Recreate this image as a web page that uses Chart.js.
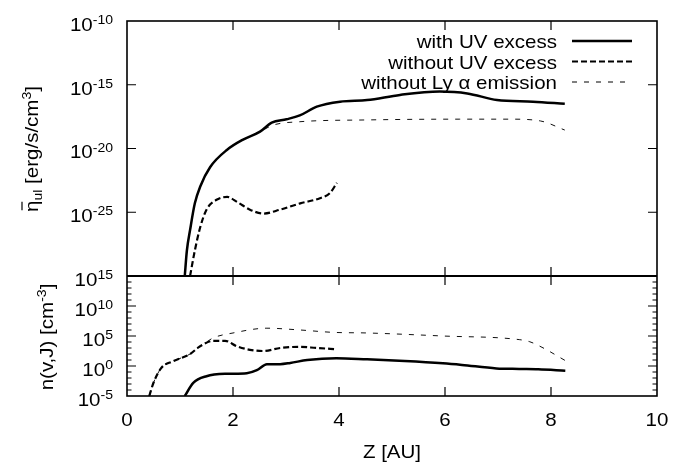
<!DOCTYPE html>
<html>
<head>
<meta charset="utf-8">
<script src="https://cdn.jsdelivr.net/npm/chart.js@4"></script>
<style>
  body { margin: 0; background: #fff; }
  canvas { display: block; }
</style>
</head>
<body>
<canvas id="eta-chart" width="697" height="463"></canvas>
<script>
// upper panel: mean emissivity eta_ul [erg/s/cm^3]
const zEtaUV = [1.09, 1.13, 1.19, 1.28, 1.38, 1.57, 1.89, 2.19, 2.51, 2.73, 3.01, 3.26, 3.58, 4.02, 4.53, 5.15, 5.9, 6.42, 6.98, 7.66, 8.26];
const etaUV = [1e-30, 1e-28, 4.0e-27, 5.0e-25, 1e-23, 3.5e-22, 8e-21, 5e-20, 2.1e-19, 1.07e-18, 1.95e-18, 3.9e-18, 1.9e-17, 4.7e-17, 6.3e-17, 1.6e-16, 2.9e-16, 2.1e-16, 6.3e-17, 4.7e-17, 3.2e-17];

const zEtaNoUV = [1.19, 1.28, 1.38, 1.5, 1.7, 1.89, 2.08, 2.32, 2.57, 2.89, 3.27, 3.64, 3.83, 3.96];
const etaNoUV = [1e-30, 1e-28, 6.3e-27, 1.6e-25, 1e-24, 1.6e-24, 6.3e-25, 1.6e-25, 7.9e-26, 1.6e-25, 5e-25, 1.26e-24, 3.2e-24, 2e-23];

const zEtaNoLya = [1.09, 1.13, 1.19, 1.28, 1.38, 1.57, 1.89, 2.19, 2.51, 2.76, 3.26, 4.53, 6.28, 7.23, 7.8, 8.26];
const etaNoLya = [1e-30, 1e-28, 4.0e-27, 5.0e-25, 1e-23, 3.5e-22, 8e-21, 5e-20, 2.1e-19, 6.9e-19, 1.26e-18, 1.74e-18, 2.0e-18, 2.0e-18, 1.45e-18, 2.8e-19];

// lower panel: level population n(v,J) [cm^-3]
const zPopUV = [1.09, 1.25, 1.5, 1.88, 2.26, 2.45, 2.64, 2.89, 3.08, 3.4, 3.95, 4.53, 5.24, 5.96, 6.32, 6.97, 7.4, 7.76, 8.27];
const popUV = [1e-5, 1.6e-3, 2e-2, 5e-2, 6.3e-2, 0.2, 2.0, 2.0, 3.2, 10, 20, 13, 6.8, 2.8, 1.5, 0.4, 0.32, 0.28, 0.16];

const zPopNoUV = [0.42, 0.5, 0.65, 0.87, 1.19, 1.38, 1.63, 1.85, 2.07, 2.32, 2.57, 2.89, 3.27, 3.58, 3.96];
const popNoUV = [1e-5, 1.6e-3, 0.5, 6.3, 100, 2000, 1.6e4, 1.6e4, 2000, 500, 316, 1000, 1600, 1000, 630];

const zPopNoLya = [0.42, 0.5, 0.65, 0.87, 1.19, 1.38, 1.5, 1.63, 2.0, 2.64, 3.27, 3.9, 4.53, 5.96, 7.4, 7.6, 7.83, 8.27];
const popNoLya = [1e-5, 1.6e-3, 0.5, 6.3, 100, 2000, 1e4, 5e4, 3.2e5, 2e6, 1e6, 4e5, 3.2e5, 1e5, 2.5e4, 1.1e4, 1.3e3, 8];

const seriesLabels = ['with UV excess', 'without UV excess', 'without Ly \u03b1 emission'];
const xTicks = [0, 2, 4, 6, 8, 10];
const etaExponents = [-10, -15, -20, -25];
const popExponents = [15, 10, 5, 0, -5];

const FONT = "'Liberation Sans', Arial, sans-serif";
const STRETCH = 1.08;   // helvetica in the original is a touch wider

const lineStyles = [
  { borderWidth: 2.5, borderDash: [] },
  { borderWidth: 2.2, borderDash: [6, 3] },
  { borderWidth: 1, borderDash: [5, 7] }
];

const toPoints = (xs, ys) => xs.map((x, i) => ({ x: x, y: ys[i] }));

const makeSet = (idx, axis, xs, ys) => ({
  label: seriesLabels[idx],
  data: toPoints(xs, ys),
  yAxisID: axis,
  borderColor: idx === 2 ? '#111' : '#000',
  borderWidth: lineStyles[idx].borderWidth,
  borderDash: lineStyles[idx].borderDash,
  pointRadius: 0,
  fill: false,
  cubicInterpolationMode: 'monotone'
});

function textWidth(ctx, text, size) {
  ctx.font = size + 'px ' + FONT;
  return ctx.measureText(text).width * STRETCH;
}

function drawText(ctx, text, size, x, y, align) {
  ctx.save();
  ctx.font = size + 'px ' + FONT;
  ctx.translate(x, y);
  ctx.scale(STRETCH, 1);
  ctx.textAlign = align;
  ctx.textBaseline = 'alphabetic';
  ctx.fillText(text, 0, 0);
  ctx.restore();
}

// "10" with a raised exponent, right aligned at xr
function powLabel(ctx, exp, xr, y) {
  const e = String(exp);
  const ew = textWidth(ctx, e, 13);
  const bw = textWidth(ctx, '10', 19);
  drawText(ctx, '10', 19, xr - ew - bw, y + 9.8, 'left');
  drawText(ctx, e, 13, xr - ew, y + 3, 'left');
}

// vertical title made of runs [text, size, shift]
function verticalTitle(ctx, runs, cx, cy, overbar) {
  ctx.save();
  ctx.translate(cx, cy);
  ctx.rotate(-Math.PI / 2);
  ctx.scale(STRETCH, 1);
  ctx.textAlign = 'left';
  ctx.textBaseline = 'alphabetic';
  let total = 0;
  runs.forEach(r => { ctx.font = r[1] + 'px ' + FONT; total += ctx.measureText(r[0]).width; });
  let x = -total / 2;
  runs.forEach((r, i) => {
    ctx.font = r[1] + 'px ' + FONT;
    const w = ctx.measureText(r[0]).width;
    ctx.fillText(r[0], x, 7 + r[2]);
    if (overbar && i === 0) {
      ctx.lineWidth = 1.2;
      ctx.beginPath();
      ctx.moveTo(x + 1.5, 7 - 16);
      ctx.lineTo(x + w - 1, 7 - 16);
      ctx.stroke();
    }
    x += w;
  });
  ctx.restore();
}

const framePlugin = {
  id: 'frame',
  afterDraw(chart) {
    const ctx = chart.ctx;
    const sx = chart.scales.x, eta = chart.scales.eta, pop = chart.scales.pop;
    const left = sx.getPixelForValue(0), right = sx.getPixelForValue(10);
    const top = eta.getPixelForValue(1e-10);
    const mid = eta.getPixelForValue(1e-30);
    const bottom = pop.getPixelForValue(1e-5);

    ctx.save();
    ctx.strokeStyle = '#000';
    ctx.fillStyle = '#000';
    ctx.setLineDash([]);

    ctx.lineWidth = 1.6;
    ctx.strokeRect(left, top, right - left, bottom - top);
    ctx.lineWidth = 2.2;
    ctx.beginPath();
    ctx.moveTo(left, mid);
    ctx.lineTo(right, mid);
    ctx.stroke();

    const major = 9, minor = 4.5;
    ctx.lineWidth = 1.2;
    ctx.beginPath();
    // x ticks on every horizontal edge, pointing inward
    xTicks.slice(1, -1).forEach(v => {
      const px = sx.getPixelForValue(v);
      ctx.moveTo(px, top); ctx.lineTo(px, top + major);
      ctx.moveTo(px, mid); ctx.lineTo(px, mid - major);
      ctx.moveTo(px, mid); ctx.lineTo(px, mid + major);
      ctx.moveTo(px, bottom); ctx.lineTo(px, bottom - major);
    });
    // upper panel: major ticks only
    etaExponents.slice(1).forEach(e => {
      const py = eta.getPixelForValue(Math.pow(10, e));
      ctx.moveTo(left, py); ctx.lineTo(left + major, py);
      ctx.moveTo(right, py); ctx.lineTo(right - major, py);
    });
    // lower panel: decade minor ticks
    for (let e = -4; e < 15; e++) {
      const py = pop.getPixelForValue(Math.pow(10, e));
      const len = e % 5 === 0 ? major : minor;
      ctx.moveTo(left, py); ctx.lineTo(left + len, py);
      ctx.moveTo(right, py); ctx.lineTo(right - len, py);
    }
    ctx.stroke();

    // tick labels and axis titles
    xTicks.forEach(v => drawText(ctx, String(v), 19, sx.getPixelForValue(v), 425.5, 'center'));
    drawText(ctx, 'Z [AU]', 19, (left + right) / 2, 458, 'center');
    etaExponents.forEach(e => powLabel(ctx, e, left - 14, eta.getPixelForValue(Math.pow(10, e))));
    popExponents.forEach(e => powLabel(ctx, e, left - 14, pop.getPixelForValue(Math.pow(10, e))));

    verticalTitle(ctx, [['\u03b7', 19, 0], ['ul', 13, 4], [' [erg/s/cm', 19, 0], ['3', 13, -7.5], [']', 19, 0]], 31, 149, true);
    verticalTitle(ctx, [['n(v,J) [cm', 19, 0], ['-3', 13, -7.5], [']', 19, 0]], 46, 337, false);

    // key, top right of the upper panel
    const rows = [41, 61.5, 82];
    chart.data.datasets.slice(0, 3).forEach((ds, i) => {
      drawText(ctx, ds.label, 19, 557, rows[i] + 7, 'right');
      ctx.lineWidth = ds.borderWidth;
      ctx.setLineDash(ds.borderDash);
      ctx.beginPath();
      ctx.moveTo(572, rows[i]);
      ctx.lineTo(632, rows[i]);
      ctx.stroke();
    });
    ctx.restore();
  }
};

new Chart(document.getElementById('eta-chart'), {
  type: 'line',
  data: {
    datasets: [
      makeSet(0, 'eta', zEtaUV, etaUV),
      makeSet(1, 'eta', zEtaNoUV, etaNoUV),
      makeSet(2, 'eta', zEtaNoLya, etaNoLya),
      makeSet(0, 'pop', zPopUV, popUV),
      makeSet(1, 'pop', zPopNoUV, popNoUV),
      makeSet(2, 'pop', zPopNoLya, popNoLya)
    ]
  },
  options: {
    responsive: false,
    animation: false,
    events: [],
    layout: { padding: { left: 0, right: 40, top: 21, bottom: 0 } },
    plugins: { legend: { display: false }, tooltip: { enabled: false } },
    scales: {
      x: {
        type: 'linear', min: 0, max: 10,
        grid: { display: false, drawTicks: false },
        border: { display: false },
        ticks: { display: false, stepSize: 2 },
        afterFit: s => { s.height = 67; }
      },
      // stacked axes are laid out bottom first
      pop: {
        type: 'logarithmic', min: 1e-5, max: 1e15,
        position: 'left', stack: 'panels', stackWeight: 120,
        grid: { display: false, drawTicks: false },
        border: { display: false },
        ticks: { display: false },
        afterFit: s => { s.width = 127; }
      },
      eta: {
        type: 'logarithmic', min: 1e-30, max: 1e-10,
        position: 'left', stack: 'panels', stackWeight: 255,
        grid: { display: false, drawTicks: false },
        border: { display: false },
        ticks: { display: false },
        afterFit: s => { s.width = 127; }
      }
    }
  },
  plugins: [framePlugin]
});
</script>
</body>
</html>
